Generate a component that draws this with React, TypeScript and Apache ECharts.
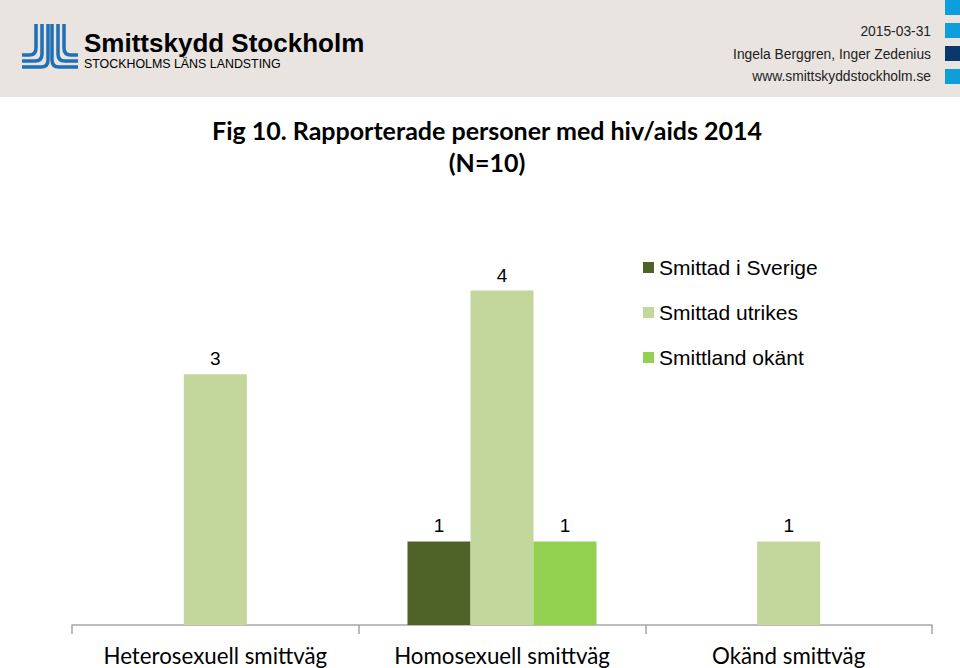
import React, { useEffect, useRef } from "react";
import * as echarts from "echarts";

const categories = ["Heterosexuell smittväg", "Homosexuell smittväg", "Okänd smittväg"];
const seriesNames = ["Smittad i Sverige", "Smittad utrikes", "Smittland okänt"];
const sverige = [null, 1, null];
const utrikes = [3, 4, 1];
const okant = [null, 1, null];
const colors = ["#4f6228", "#c3d69b", "#92d050"];

const logoPath =
  "M36 24 V48 Q36 55 29 55 H22 M42 24 V54 Q42 61 35 61 H22 M48 24 V60 Q48 67 41 67 H22 " +
  "M64 24 V48 Q64 55 71 55 H78 M58 24 V54 Q58 61 65 61 H78 M52 24 V60 Q52 67 59 67 H78";

let registered = false;

export default function App() {
  const ref = useRef<HTMLDivElement>(null);
  useEffect(() => {
    document.body.style.margin = "0";
    if (!registered) {
      echarts.graphic.registerShape("logo", echarts.graphic.extendPath(logoPath, {}));
      registered = true;
    }
    const chart = echarts.init(ref.current!, null, { renderer: "svg" });
    const labelStyle = {
      show: true,
      position: "top" as const,
      distance: 6,
      color: "#000",
      fontSize: 19,
      fontFamily: "Liberation Sans, Arial, sans-serif",
    };
    const data = [sverige, utrikes, okant];
    const sans = "Liberation Sans, Arial, sans-serif";
    chart.setOption({
      animation: false,
      backgroundColor: "#ffffff",
      grid: { left: 72, right: 28, top: 207, bottom: 43, containLabel: false },
      legend: {
        orient: "vertical",
        left: 643,
        top: 257,
        padding: 0,
        itemWidth: 11,
        itemHeight: 11,
        itemGap: 24,
        icon: "rect",
        textStyle: { fontSize: 21, color: "#000", fontFamily: sans },
        data: seriesNames,
      },
      xAxis: {
        type: "category",
        data: categories,
        axisLine: { show: true, lineStyle: { color: "#a6a6a6", width: 1.5 } },
        axisTick: { show: true, interval: 0, length: 9, alignWithLabel: false, lineStyle: { color: "#a6a6a6", width: 1.5 } },
        axisLabel: { interval: 0, hideOverlap: false, margin: 19, fontSize: 22.3, color: "#000", fontFamily: "Lato, sans-serif" },
      },
      yAxis: { type: "value", min: 0, max: 5, show: false, splitLine: { show: false } },
      series: seriesNames.map((name, i) => ({
        name,
        type: "bar",
        data: data[i],
        barWidth: 63,
        barGap: "0%",
        itemStyle: { color: colors[i] },
        label: labelStyle,
      })),
      graphic: [
        { type: "rect", shape: { x: 0, y: 0, width: 960, height: 97 }, style: { fill: "#e9e4e0" }, z: -1 },
        { type: "rect", shape: { x: 945, y: 0, width: 15, height: 15 }, style: { fill: "#0d9fdc" } },
        { type: "rect", shape: { x: 945, y: 23, width: 15, height: 15 }, style: { fill: "#0d9fdc" } },
        { type: "rect", shape: { x: 945, y: 46, width: 15, height: 15 }, style: { fill: "#0b386b" } },
        { type: "rect", shape: { x: 945, y: 69, width: 15, height: 15 }, style: { fill: "#0d9fdc" } },
        {
          type: "logo",
          x: 0,
          y: 0,
          style: { fill: "none", stroke: "#1f6fb6", lineWidth: 3.5 },
        },
        {
          type: "text",
          x: 84,
          y: 43,
          style: {
            text: "Smittskydd Stockholm",
            fontSize: 26,
            fontWeight: "bold",
            fontFamily: sans,
            fill: "#000",
            textVerticalAlign: "middle",
          },
        },
        {
          type: "text",
          x: 84,
          y: 64,
          style: {
            text: "STOCKHOLMS LÄNS LANDSTING",
            fontSize: 12.4,
            fontFamily: sans,
            fill: "#000",
            textVerticalAlign: "middle",
          },
        },
        {
          type: "text",
          x: 931,
          y: 31,
          style: { text: "2015-03-31", fontSize: 13.8, fontFamily: sans, fill: "#222", textAlign: "right", textVerticalAlign: "middle" },
        },
        {
          type: "text",
          x: 931,
          y: 54,
          style: { text: "Ingela Berggren, Inger Zedenius", fontSize: 13.8, fontFamily: sans, fill: "#222", textAlign: "right", textVerticalAlign: "middle" },
        },
        {
          type: "text",
          x: 931,
          y: 76,
          style: { text: "www.smittskyddstockholm.se", fontSize: 13.8, fontFamily: sans, fill: "#222", textAlign: "right", textVerticalAlign: "middle" },
        },
        {
          type: "text",
          x: 487,
          y: 130,
          style: { text: "Fig 10. Rapporterade personer med hiv/aids 2014", fontSize: 25, fontWeight: "bold", fontFamily: "Lato, sans-serif", fill: "#000", textAlign: "center", textVerticalAlign: "middle" },
        },
        {
          type: "text",
          x: 487,
          y: 162,
          style: { text: "(N=10)", fontSize: 25, fontWeight: "bold", fontFamily: "Lato, sans-serif", fill: "#000", textAlign: "center", textVerticalAlign: "middle" },
        },
      ],
    });
    return () => chart.dispose();
  }, []);
  return <div ref={ref} style={{ width: 960, height: 668 }} />;
}
